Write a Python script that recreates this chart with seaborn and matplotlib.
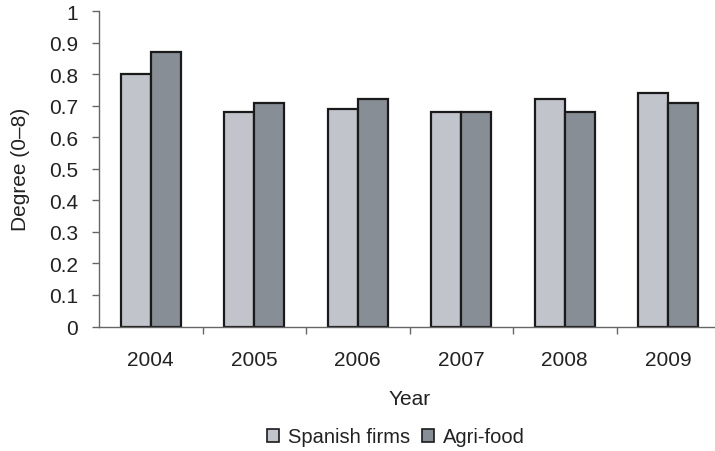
import matplotlib
matplotlib.use("Agg")
import matplotlib.pyplot as plt
import seaborn as sns
import pandas as pd
from matplotlib.patches import Patch
from matplotlib.ticker import FixedLocator

years = ["2004", "2005", "2006", "2007", "2008", "2009"]
spanish_firms = [0.80, 0.68, 0.69, 0.68, 0.72, 0.74]
agri_food = [0.87, 0.71, 0.72, 0.68, 0.68, 0.71]
series_names = ["Spanish firms", "Agri-food"]
y_ticks = [0, 0.1, 0.2, 0.3, 0.4, 0.5, 0.6, 0.7, 0.8, 0.9, 1]
y_tick_labels = ["0", "0.1", "0.2", "0.3", "0.4", "0.5", "0.6", "0.7", "0.8", "0.9", "1"]

df = pd.DataFrame({
    "Year": years * 2,
    "Degree": spanish_firms + agri_food,
    "Series": [series_names[0]] * len(years) + [series_names[1]] * len(years),
})

sns.set_theme(style="white")
plt.rcParams["font.family"] = ["Liberation Sans", "DejaVu Sans"]

colors = ["#c1c4cb", "#878e95"]
fig = plt.figure(figsize=(7.15, 4.52), dpi=100)
ax = fig.add_axes([0.1385, 0.2754, 0.8685, 0.698])

sns.barplot(data=df, x="Year", y="Degree", hue="Series", hue_order=series_names,
            palette=colors, width=0.58, edgecolor="#1a1a1a", linewidth=1.6,
            saturation=1, ax=ax, legend=False)

ax.set_ylim(0, 1)
ax.set_xlim(-0.5, 5.5)
ax.set_yticks(y_ticks)
ax.set_yticklabels(y_tick_labels)

spine_color = "#666666"
for side in ["top", "right"]:
    ax.spines[side].set_visible(False)
for side in ["left", "bottom"]:
    ax.spines[side].set_color(spine_color)
    ax.spines[side].set_linewidth(1.0)

# Category separators as ticks on the x axis
ax.xaxis.set_minor_locator(FixedLocator([i + 0.5 for i in range(len(years))]))
ax.tick_params(axis="x", which="major", length=0, labelsize=15, colors="#222222", pad=17)
ax.tick_params(axis="x", which="minor", bottom=True, length=5, width=1, color=spine_color)
ax.tick_params(axis="y", left=True, length=5, width=1, color=spine_color,
               labelsize=15, labelcolor="#222222", pad=10)

ax.set_xlabel("Year", fontsize=15, color="#222222", labelpad=14)
ax.set_ylabel("Degree (0–8)", fontsize=15, color="#222222", labelpad=14)

handles = [Patch(facecolor=c, edgecolor="#1a1a1a", linewidth=1.2) for c in colors]
fig.legend(handles, series_names, loc="center", bbox_to_anchor=(396 / 715, 1 - 438 / 452),
           ncol=2, frameon=False, fontsize=14.5, handlelength=0.6, handleheight=0.6,
           handletextpad=0.45, columnspacing=0.6, labelcolor="#222222")

fig.savefig("out.png", dpi=100)
